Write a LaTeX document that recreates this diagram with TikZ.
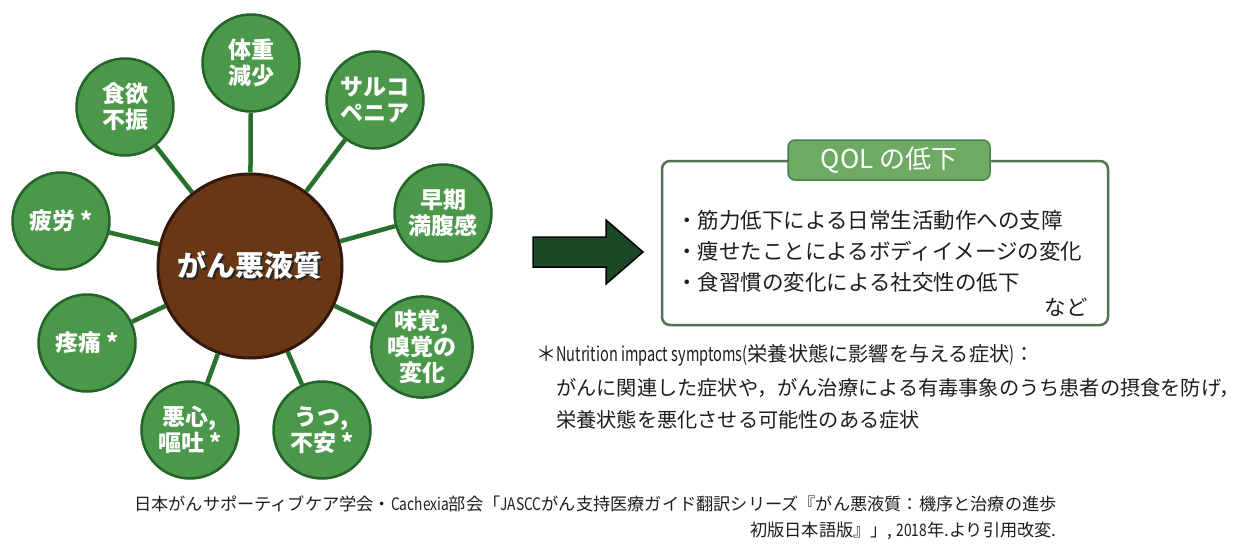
\documentclass[tikz,border=0pt]{standalone}
\usepackage{fontspec}
\setmainfont{Noto Sans CJK JP}
\definecolor{satfill}{RGB}{75,152,75}
\definecolor{satline}{RGB}{36,100,42}
\definecolor{connc}{RGB}{40,112,46}
\definecolor{hubfill}{RGB}{105,55,20}
\definecolor{hubline}{RGB}{50,25,10}
\definecolor{arrowc}{RGB}{28,72,40}
\definecolor{boxline}{RGB}{80,115,80}
\definecolor{tabfill}{RGB}{110,170,100}
\definecolor{tabline}{RGB}{70,130,70}
\definecolor{txt}{RGB}{30,30,30}
\newcommand\shadowed[1]{\makebox[0pt][l]{\hspace*{1.5pt}\raisebox{-1.5pt}{\color{black!85}#1}}#1}
\newcommand\narrowlat[2]{\scalebox{#1}[1]{#2}}
\begin{document}
\begin{tikzpicture}[x=1pt,y=-1pt,
  sat/.style={circle, fill=satfill, draw=satline, line width=2.5pt, minimum size=97pt, inner sep=0pt,
    align=center, text=white, font=\fontsize{23}{26}\selectfont\bfseries},
  hub/.style={circle, fill=hubfill, draw=hubline, line width=3pt, minimum size=184pt, inner sep=0pt,
    text=white, font=\fontsize{29}{32}\selectfont\bfseries},
  conn/.style={draw=connc, line width=4.5pt},
  qolbox/.style={draw=boxline, line width=2.5pt, rounded corners=8pt, fill=white, minimum width=446pt, minimum height=164pt},
  tabbox/.style={draw=tabline, line width=1.5pt, fill=tabfill, rounded corners=7pt, minimum width=202pt, minimum height=40pt,
    text=white, font=\fontsize{26}{28}\selectfont},
  qline/.style={anchor=west, inner sep=0pt, text=txt, font=\fontsize{21.5}{24}\selectfont},
  fline/.style={anchor=west, inner sep=0pt, text=txt, font=\fontsize{20.2}{23}\selectfont},
  cline/.style={inner sep=0pt, text=txt, font=\fontsize{17.2}{19}\selectfont}
]
\useasboundingbox (0,0) rectangle (1240,546);
\fill[white] (0,0) rectangle (1240,546);
% hub and satellites
\node[hub] (c) at (250,266) {\shadowed{がん悪液質}};
\node[sat] (s1) at (251,63) {体重\\減少};
\node[sat] (s2) at (375,100) {サルコ\\ペニア};
\node[sat] (s3) at (443,213) {早期\\満腹感};
\node[sat] (s4) at (422,347) {味覚,\\嗅覚の\\変化};
\node[sat] (s5) at (322,430) {うつ,\\不安 *};
\node[sat] (s6) at (190,430) {悪心,\\嘔吐 *};
\node[sat] (s7) at (87,343) {疼痛 *};
\node[sat] (s8) at (61,221) {疲労 *};
\node[sat] (s9) at (125,107) {食欲\\不振};
\foreach \s in {s1,s2,s3,s4,s5,s6,s7,s8,s9} \draw[conn] (c) -- (\s);
% block arrow
\filldraw[fill=arrowc, draw=black, line width=1.5pt, line join=miter]
  (533,237) -- (606,237) -- (606,220) -- (643,252) -- (606,284) -- (606,267) -- (533,267) -- cycle;
% QOL box
\node[qolbox] (q) at (885,243) {};
\node[tabbox] (t) at (889,160) {QOL の低下};
\node[qline] (l1) at (676,220) {・筋力低下による日常生活動作への支障};
\node[qline] (l2) at (676,251) {・痩せたことによるボディイメージの変化};
\node[qline] (l3) at (676,282) {・食習慣の変化による社交性の低下};
\node[qline, anchor=east] (l4) at (1088,307) {など};
% footnote
\node[fline] (f1) at (536,355) {＊\narrowlat{0.72}{Nutrition impact symptoms(}栄養状態に影響を与える症状\narrowlat{0.72}{)}：};
\node[fline] (f2) at (556,388) {がんに関連した症状や，がん治療による有毒事象のうち患者の摂食を防げ，};
\node[fline] (f3) at (556,420) {栄養状態を悪化させる可能性のある症状};
% citation
\node[cline, anchor=west] (r1) at (134,504) {日本がんサポーティブケア学会・\narrowlat{0.8}{Cachexia}部会「\narrowlat{0.8}{JASCC}がん支持医療ガイド翻訳シリーズ『がん悪液質：機序と治療の進歩};
\node[cline, anchor=east] (r2) at (r1.east |- 0,531) {初版日本語版』」, \narrowlat{0.8}{2018}年.より引用改変.};
\end{tikzpicture}
\end{document}
